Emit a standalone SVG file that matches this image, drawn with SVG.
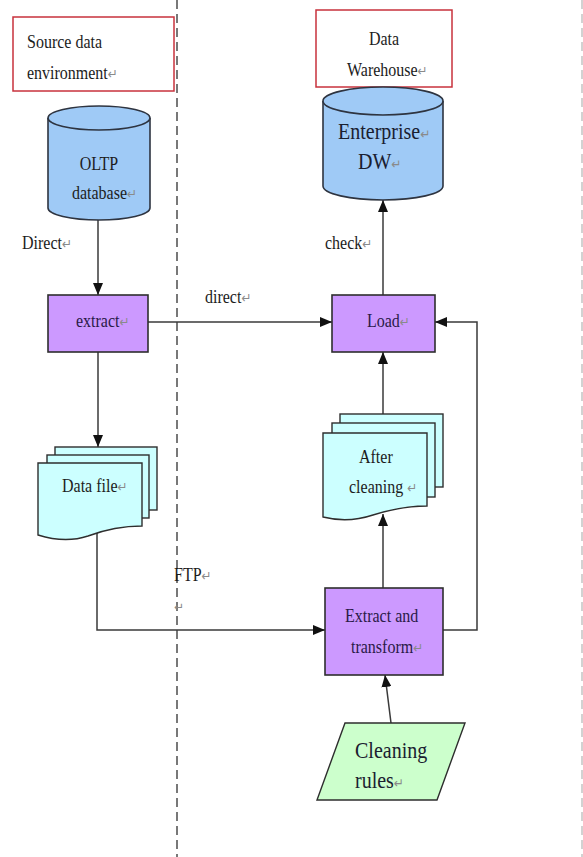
<svg xmlns="http://www.w3.org/2000/svg" width="583" height="857" viewBox="0 0 583 857">
  <style>
    .t { font-family: "Liberation Serif", "Times New Roman", serif; font-size: 16px; fill: #1c1c1c; }
    .tb { font-family: "Liberation Serif", "Times New Roman", serif; font-size: 20px; fill: #1a2030; }
    .tp { fill: #2a1a48; }
    .rt { fill: #8a8a8a; font-size: 12px; font-family: "DejaVu Sans", sans-serif; }
    .label { fill: #ffffff; stroke: #c8323c; stroke-width: 1.5; }
    .cyl { fill: #9fcaf6; stroke: #2e3440; stroke-width: 1.6; }
    .proc { fill: #cc99ff; stroke: #2e2e2e; stroke-width: 1.6; }
    .doc { fill: #ccffff; stroke: #2e2e2e; stroke-width: 1.4; }
    .data { fill: #ccffcc; stroke: #2e2e2e; stroke-width: 1.4; }
    .lane { stroke: #6a6a6a; stroke-width: 1.8; stroke-dasharray: 9 5; fill: none; }
    .edge { fill: none; stroke: #3a3a3a; stroke-width: 1.5; }
  </style>
  <defs>
    <marker id="arrow" markerUnits="userSpaceOnUse" markerWidth="13" markerHeight="10" refX="12" refY="5" orient="auto">
      <path d="M0,0 L12,5 L0,10 Z" fill="#111"/>
    </marker>
  </defs>

  <rect width="583" height="857" fill="#ffffff"/>

  <!-- swimlane separators -->
  <g id="lanes">
    <line class="lane" x1="177" y1="0" x2="177" y2="857"/>
    <line x1="582" y1="0" x2="582" y2="857" stroke="#c4c4c4" stroke-width="1.5" stroke-dasharray="9 5"/>
  </g>

  <!-- region titles -->
  <g id="source-title">
    <rect class="label" x="13" y="17" width="161" height="74"/>
    <text class="t" transform="matrix(1 0 0 1.2 27 48)">Source data</text>
    <text class="t" transform="matrix(1 0 0 1.2 27 79)">environment<tspan class="rt">↵</tspan></text>
  </g>
  <g id="warehouse-title">
    <rect class="label" x="316" y="10" width="136" height="77"/>
    <text class="t" text-anchor="middle" transform="matrix(1 0 0 1.2 384 45)">Data</text>
    <text class="t" transform="matrix(1 0 0 1.2 347 76)">Warehouse<tspan class="rt">↵</tspan></text>
  </g>

  <!-- connectors -->
  <g id="connectors">
    <path class="edge" d="M98,220 V295" marker-end="url(#arrow)"/>
    <path class="edge" d="M148,322 H332" marker-end="url(#arrow)"/>
    <path class="edge" d="M98,352 V447" marker-end="url(#arrow)"/>
    <path class="edge" d="M97,533 V630 H325" marker-end="url(#arrow)"/>
    <path class="edge" d="M443,630 H477 V322 H435" marker-end="url(#arrow)"/>
    <path class="edge" d="M383,588 V514" marker-end="url(#arrow)"/>
    <path class="edge" d="M383,414 V352" marker-end="url(#arrow)"/>
    <path class="edge" d="M383,295 V200" marker-end="url(#arrow)"/>
    <path class="edge" d="M391,723 L385,675" marker-end="url(#arrow)"/>
    <text class="t" transform="matrix(1 0 0 1.2 22 249)">Direct<tspan class="rt">↵</tspan></text>
    <text class="t" transform="matrix(1 0 0 1.2 205 303)">direct<tspan class="rt">↵</tspan></text>
    <text class="t" transform="matrix(1 0 0 1.2 325 249)">check<tspan class="rt">↵</tspan></text>
    <text class="t" transform="matrix(1 0 0 1.2 174 581)">FTP<tspan class="rt">↵</tspan></text>
    <text class="rt" x="174" y="611">↵</text>
  </g>

  <!-- OLTP database -->
  <g id="oltp">
    <path class="cyl" d="M48,118 V208 A51,12 0 0 0 150,208 V118"/>
    <ellipse class="cyl" cx="99" cy="118" rx="51" ry="12"/>
    <text class="t" text-anchor="middle" transform="matrix(1 0 0 1.2 99 170)">OLTP</text>
    <text class="t" transform="matrix(1 0 0 1.2 72 199)">database<tspan class="rt">↵</tspan></text>
  </g>

  <!-- Enterprise DW -->
  <g id="enterprise-dw">
    <path class="cyl" d="M323,101 V186 A60,14 0 0 0 443,186 V101"/>
    <ellipse class="cyl" cx="383" cy="101" rx="60" ry="14"/>
    <text class="tb" transform="matrix(1 0 0 1.13 338 139)">Enterprise<tspan class="rt">↵</tspan></text>
    <text class="tb" transform="matrix(1 0 0 1.13 358 169)">DW<tspan class="rt">↵</tspan></text>
  </g>

  <!-- extract -->
  <g id="extract">
    <rect class="proc" x="48" y="295" width="100" height="57"/>
    <text class="t tp" transform="matrix(1 0 0 1.2 76 327)">extract<tspan class="rt">↵</tspan></text>
  </g>

  <!-- Load -->
  <g id="load">
    <rect class="proc" x="332" y="295" width="103" height="57"/>
    <text class="t tp" transform="matrix(1 0 0 1.2 367 327)">Load<tspan class="rt">↵</tspan></text>
  </g>

  <!-- Data file (multiple documents) -->
  <g id="data-file">
    <rect class="doc" x="55" y="447" width="102" height="63"/>
    <rect class="doc" x="47" y="455" width="102" height="63"/>
    <path class="doc" d="M38,463 H142 V526 C122,526 104,530 88,536 C70,542 54,540 38,535 Z"/>
    <text class="t" transform="matrix(1 0 0 1.2 62 492)">Data file<tspan class="rt">↵</tspan></text>
  </g>

  <!-- After cleaning (multiple documents) -->
  <g id="after-cleaning">
    <rect class="doc" x="340" y="414" width="103" height="73"/>
    <rect class="doc" x="332" y="423" width="103" height="74"/>
    <path class="doc" d="M323,433 H427 V506 C407,506 389,510 373,515 C355,521 339,521 323,517 Z"/>
    <text class="t" transform="matrix(1 0 0 1.2 359 463)">After</text>
    <text class="t" transform="matrix(1 0 0 1.2 349 493)">cleaning <tspan class="rt">↵</tspan></text>
  </g>

  <!-- Extract and transform -->
  <g id="extract-transform">
    <rect class="proc" x="325" y="588" width="118" height="87"/>
    <text class="t tp" transform="matrix(1 0 0 1.2 345 622)">Extract and</text>
    <text class="t tp" transform="matrix(1 0 0 1.2 351 653)">transform<tspan class="rt">↵</tspan></text>
  </g>

  <!-- Cleaning rules -->
  <g id="cleaning-rules">
    <polygon class="data" points="345,723 465,723 437,800 317,800"/>
    <text class="tb" transform="matrix(1 0 0 1.15 355 758)">Cleaning</text>
    <text class="tb" transform="matrix(1 0 0 1.15 355 788)">rules<tspan class="rt">↵</tspan></text>
  </g>
</svg>
